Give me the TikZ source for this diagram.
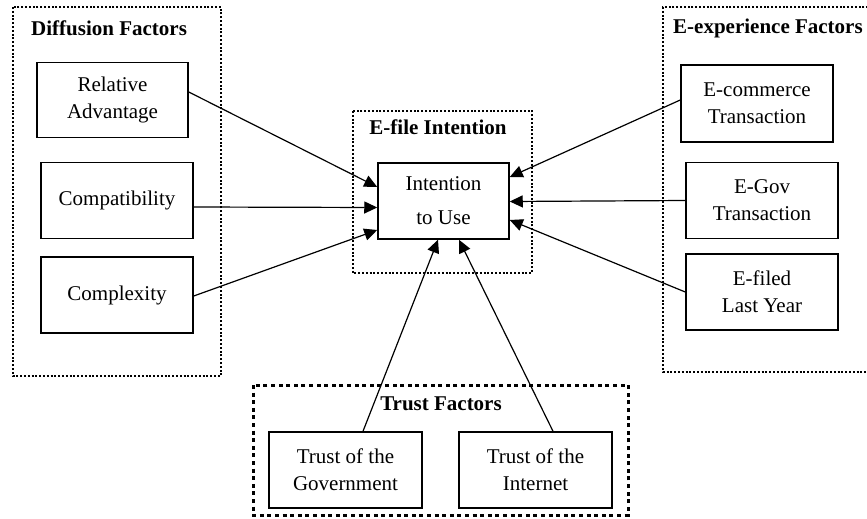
\documentclass[tikz,border=0pt]{standalone}
\usepackage{fontspec}
\setmainfont{Liberation Serif}
\usetikzlibrary{arrows.meta}
\begin{document}
\begin{tikzpicture}[x=1pt,y=-1pt,
  box/.style={draw,line width=1.5pt,align=center,inner sep=0pt,
    font=\fontsize{21}{27}\selectfont},
  grp/.style={draw,line width=2pt,dash pattern=on 2pt off 1.8pt},
  tgrp/.style={draw,line width=3pt,dash pattern=on 4pt off 3.6pt},
  glabel/.style={font=\fontsize{21}{25}\selectfont\bfseries,inner sep=0pt},
  arr/.style={line width=1.2pt,-{Triangle[length=13pt,width=12pt]}}]
\useasboundingbox (0,0) rectangle (867,519);
% group frames
\draw[grp] (13,7) rectangle (221,376);
\draw[grp] (353,111) rectangle (532,273);
\draw[grp] (872,7) -- (663,7) -- (663,372) -- (872,372);
\draw[tgrp] (253,385) rectangle (628,515);
% group labels
\node[glabel,anchor=west] (ldiff) at (31,28) {Diffusion Factors};
\node[glabel,anchor=west] (lexp) at (673,28) {E-experience Factors};
\node[glabel] (lfile) at (438,127) {E-file Intention};
\node[glabel] (ltrust) at (441,404) {Trust Factors};
% boxes
\node[box,minimum width=151pt,minimum height=75pt] (ra) at (112.5,100) {Relative\\Advantage};
\node[box,minimum width=152pt,minimum height=76pt] (comp) at (117,200.5) {Compatibility};
\node[box,minimum width=152pt,minimum height=76pt] (cplx) at (117,295) {Complexity};
\node[box,minimum width=131pt,minimum height=76pt,font=\fontsize{21}{34}\selectfont] (itu) at (443.5,201) {Intention\\to Use};
\node[box,minimum width=152pt,minimum height=77pt] (ec) at (757,103.5) {E-commerce\\Transaction};
\node[box,minimum width=152pt,minimum height=76pt] (egov) at (762,200.5) {E-Gov\\Transaction};
\node[box,minimum width=152pt,minimum height=76pt] (efiled) at (762,292) {E-filed\\Last Year};
\node[box,minimum width=153pt,minimum height=76pt] (tgov) at (345.5,470) {Trust of the\\Government};
\node[box,minimum width=153pt,minimum height=76pt] (tint) at (535.5,470) {Trust of the\\Internet};
% connectors
\draw[arr] ([yshift=8pt]ra.east) -- ([yshift=14pt]itu.west);
\draw[arr] ([yshift=-6.5pt]comp.east) -- ([yshift=-6.5pt]itu.west);
\draw[arr] ([yshift=-1pt]cplx.east) -- ([yshift=-29pt]itu.west);
\draw[arr] ([yshift=3.5pt]ec.west) -- ([yshift=24pt]itu.east);
\draw[arr] (egov.west) -- ([yshift=-0.5pt]itu.east);
\draw[arr] (efiled.west) -- ([yshift=-19pt]itu.east);
\draw[arr] ([xshift=17.5pt]tgov.north) -- ([xshift=-5.5pt]itu.south);
\draw[arr] ([xshift=17.5pt]tint.north) -- ([xshift=15.5pt]itu.south);
\end{tikzpicture}
\end{document}
